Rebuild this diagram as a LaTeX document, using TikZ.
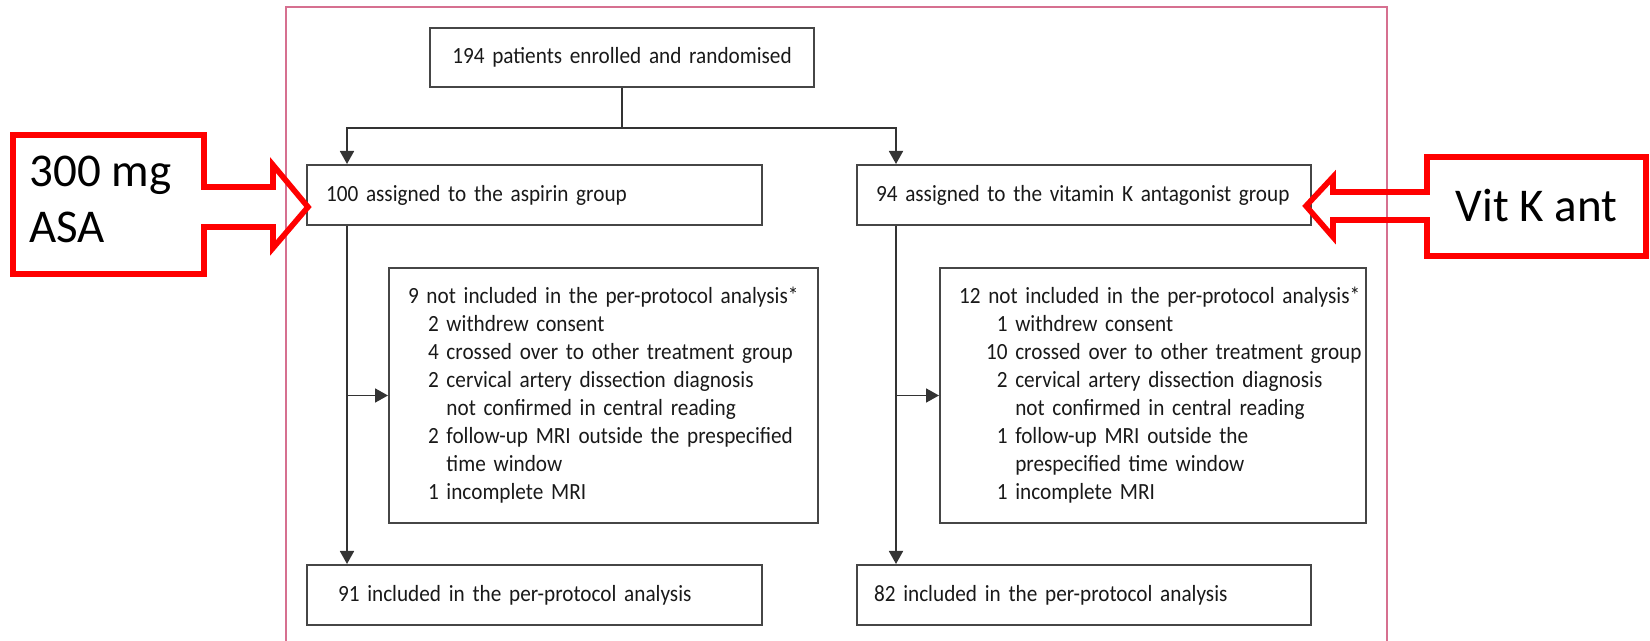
\documentclass[tikz,border=0pt]{standalone}
\usepackage{fontspec}
\setmainfont{Carlito}[WordSpace=0.8,FakeStretch=0.915]
\newfontfamily\calloutfont{Carlito}
\usepackage{tikz}
\usetikzlibrary{arrows.meta,positioning,calc}
\definecolor{framepink}{RGB}{214,112,144}
\definecolor{boxgray}{RGB}{70,70,70}
\definecolor{calloutred}{RGB}{255,0,0}

\begin{document}
\begin{tikzpicture}[x=0.5pt,y=-0.5pt,
  font=\fontsize{11.6pt}{14pt}\selectfont,
  bx/.style={draw=boxgray,line width=1pt,inner ysep=0pt,minimum height=30pt,align=left,text=black!90},
  arr/.style={-{Triangle[width=7pt,length=6.5pt]},line width=0.9pt,draw=black!80},
  pinkframe/.style={draw=framepink,line width=1.4pt},
  redarrow/.style={draw=calloutred,line width=2.8pt,line join=miter},
  lbl/.style={font=\calloutfont\fontsize{23.5pt}{28pt}\selectfont,inner sep=0pt}]
\useasboundingbox (0,0) rectangle (1650,641);
\draw[pinkframe] (286,660) |- (1387,7) -- (1387,660);
% trial flow
\node[bx,align=center,text width=192pt,inner xsep=0pt,minimum height=29.5pt] (enrol) at (622,57.5) {194 patients enrolled and randomised};
\node[bx,text width=208.5pt,inner xsep=9.5pt] (asp) at (534.5,195) {100 assigned to the aspirin group};
\node[bx,text width=208pt,inner xsep=9.5pt] (vka) at (1084,195) {\mbox{94 assigned to the vitamin K antagonist group}};
\node[bx,text width=195.5pt,inner xsep=9.5pt,minimum height=127.5pt] (exA) at (603.5,395.5) {%
\begin{tabular}{@{\hspace{10pt}}r@{\ }l@{}}
\multicolumn{2}{@{}l@{}}{9 not included in the per-protocol analysis*}\\
2 & withdrew consent\\
4 & crossed over to other treatment group\\
2 & cervical artery dissection diagnosis\\
  & not confirmed in central reading\\
2 & follow-up MRI outside the prespecified\\
  & time window\\
1 & incomplete MRI
\end{tabular}};
\node[bx,text width=194pt,inner xsep=9.5pt,minimum height=127.5pt] (exB) at (1153,395.5) {%
\begin{tabular}{@{\hspace{13.5pt}}r@{\ }l@{}}
\multicolumn{2}{@{}l@{}}{12 not included in the per-protocol analysis*}\\
1 & withdrew consent\\
10 & crossed over to other treatment group\\
2 & cervical artery dissection diagnosis\\
  & not confirmed in central reading\\
1 & follow-up MRI outside the\\
  & prespecified time window\\
1 & incomplete MRI
\end{tabular}};
\node[bx,text width=196.5pt,inner xsep=15.5pt] (ppA) at (534.5,595) {91 included in the per-protocol analysis};
\node[bx,text width=210pt,inner xsep=8.5pt] (ppB) at (1084,595) {82 included in the per-protocol analysis};
\coordinate (split) at ($(enrol.south)+(0,40)$);
\draw[line width=0.9pt,draw=black!80] (enrol.south) -- (split);
\draw[arr] (split) -| ($(asp.north west)+(41,0)$);
\draw[arr] (split) -| ($(vka.north west)+(40,0)$);
\draw[arr] ($(asp.south west)+(41,0)$) -- ($(ppA.north west)+(41,0)$);
\draw[arr] ($(vka.south west)+(40,0)$) -- ($(ppB.north west)+(40,0)$);
\draw[arr] ($(asp.south west)+(41,0)$) |- (exA.west);
\draw[arr] ($(vka.south west)+(40,0)$) |- (exB.west);
% red callouts
\draw[redarrow] (13,135) -- (204,135) -- (204,187) -- (273,187) -- (273,165) -- (308,207)
  -- (273,248) -- (273,227) -- (204,227) -- (204,274) -- (13,274) -- cycle;
\node[lbl,anchor=west,align=left] (dose) at (29,199) {300 mg\\ASA};
\draw[redarrow] (1646,157) -- (1427,157) -- (1427,192) -- (1333,192) -- (1333,177) -- (1306,206)
  -- (1333,237) -- (1333,220) -- (1427,220) -- (1427,256) -- (1646,256) -- cycle;
\node[lbl] (vitk) at (1536.5,206) {Vit K ant};
\end{tikzpicture}
\end{document}
